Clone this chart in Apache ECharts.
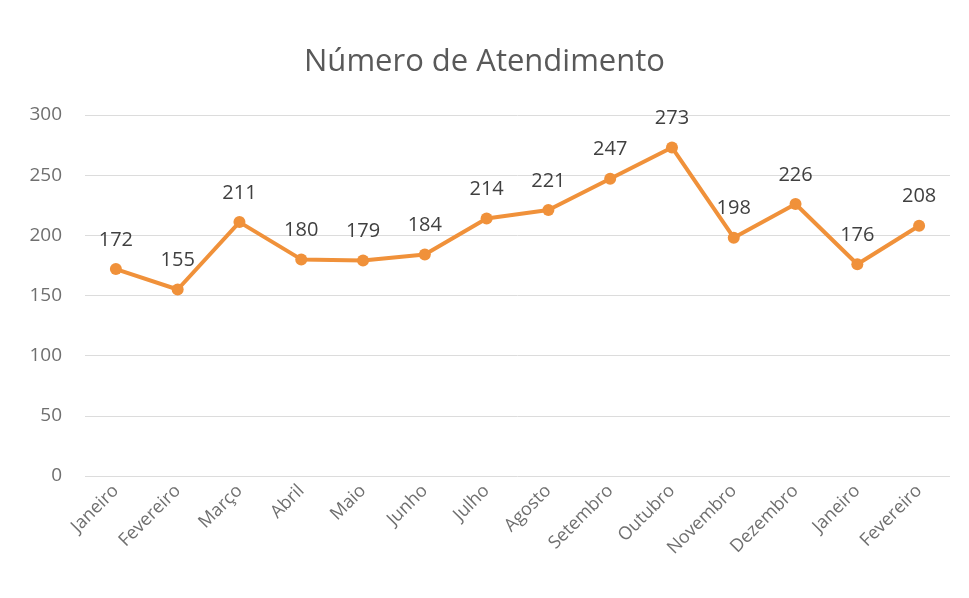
<!DOCTYPE html>
<html><head><meta charset="utf-8">
<script src="https://cdn.jsdelivr.net/npm/echarts@6/dist/echarts.min.js"></script>
<style>html,body{margin:0;padding:0;background:#fff}#c{width:969px;height:598px}</style>
</head><body><div id="c"></div>
<script>
const categories = ["Janeiro","Fevereiro","Março","Abril","Maio","Junho","Julho","Agosto","Setembro","Outubro","Novembro","Dezembro","Janeiro","Fevereiro"];
const values = [172,155,211,180,179,184,214,221,247,273,198,226,176,208];
const yTicks = {min:0, max:300, interval:50};
const chart = echarts.init(document.getElementById('c'));
const font = "'Open Sans', sans-serif";
chart.setOption({
  backgroundColor:'#fff',
  title:{text:'Número de Atendimento', left:'center', top:42,
    textStyle:{fontFamily:font, fontSize:31, fontWeight:'normal', color:'#595959'}},
  grid:{left:85, right:19, top:115, bottom:122},
  xAxis:{type:'category', data:categories, boundaryGap:true,
    axisLine:{show:false}, axisTick:{show:false},
    axisLabel:{rotate:45, interval:0, fontFamily:font, fontSize:18, color:'#6f6f6f', margin:12}},
  yAxis:{type:'value', min:yTicks.min, max:yTicks.max, interval:yTicks.interval,
    axisLine:{show:false}, axisTick:{show:false},
    splitLine:{lineStyle:{color:'#dcdcdc', width:1}},
    axisLabel:{fontFamily:font, fontSize:19, color:'#6f6f6f', margin:23}},
  series:[{type:'line', data:values, symbol:'circle', symbolSize:12,
    lineStyle:{color:'#F0913A', width:4}, itemStyle:{color:'#F0913A'},
    label:{show:true, position:'top', distance:13, fontFamily:font, fontSize:20, color:'#404040'}}]
});
</script></body></html>
